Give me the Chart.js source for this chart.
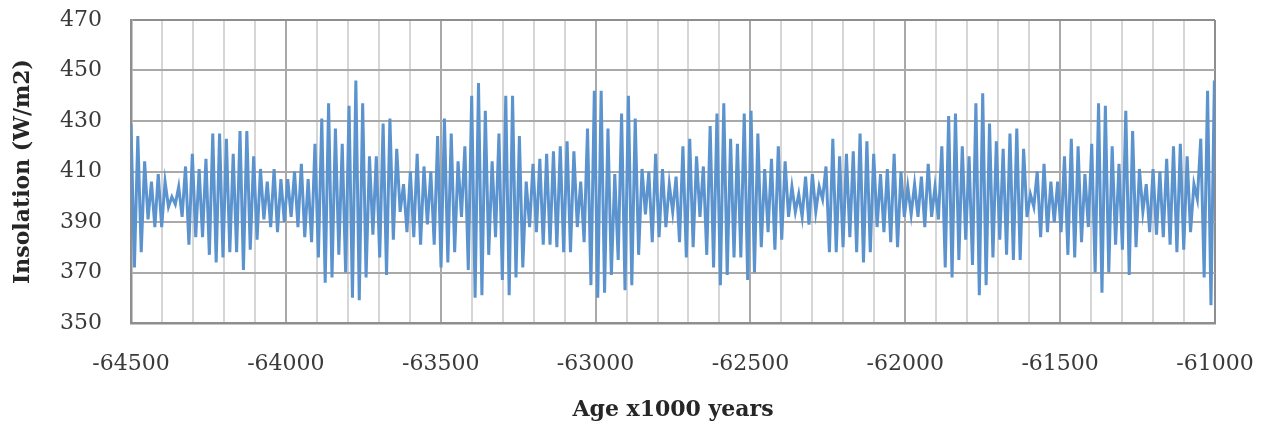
<!DOCTYPE html>
<html>
<head>
<meta charset="utf-8">
<script src="https://cdn.jsdelivr.net/npm/chart.js@4.4.1/dist/chart.umd.min.js"></script>
<style>
  html, body { margin: 0; padding: 0; background: #ffffff; }
  #wrap { width: 1270px; height: 428px; }
</style>
</head>
<body>
<div id="wrap"><canvas id="insolationChart" width="1270" height="428"></canvas></div>
<script>
// age (x1000 years), one sample per half cycle
const ages = [
    -64500, -64489, -64478, -64467, -64456, -64445, -64434, -64423, -64412, -64401,
    -64390, -64379, -64368, -64357, -64346, -64335, -64324, -64313, -64302, -64291,
    -64280, -64269, -64258, -64247, -64236, -64225, -64214, -64203, -64192, -64181,
    -64170, -64159, -64148, -64137, -64126, -64115, -64104, -64093, -64082, -64071,
    -64060, -64049, -64038, -64027, -64016, -64005, -63994, -63983, -63972, -63961,
    -63950, -63939, -63928, -63917, -63906, -63895, -63884, -63873, -63862, -63851,
    -63840, -63829, -63818, -63807, -63796, -63785, -63774, -63763, -63752, -63741,
    -63730, -63719, -63708, -63697, -63686, -63675, -63664, -63653, -63642, -63631,
    -63620, -63609, -63598, -63587, -63576, -63565, -63554, -63543, -63532, -63521,
    -63510, -63499, -63488, -63477, -63466, -63455, -63444, -63433, -63422, -63411,
    -63400, -63389, -63378, -63367, -63356, -63345, -63334, -63323, -63312, -63301,
    -63290, -63279, -63268, -63257, -63246, -63235, -63224, -63213, -63202, -63191,
    -63180, -63169, -63158, -63147, -63136, -63125, -63114, -63103, -63092, -63081,
    -63070, -63059, -63048, -63037, -63026, -63015, -63004, -62993, -62982, -62971,
    -62960, -62949, -62938, -62927, -62916, -62905, -62894, -62883, -62872, -62861,
    -62850, -62839, -62828, -62817, -62806, -62795, -62784, -62773, -62762, -62751,
    -62740, -62729, -62718, -62707, -62696, -62685, -62674, -62663, -62652, -62641,
    -62630, -62619, -62608, -62597, -62586, -62575, -62564, -62553, -62542, -62531,
    -62520, -62509, -62498, -62487, -62476, -62465, -62454, -62443, -62432, -62421,
    -62410, -62399, -62388, -62377, -62366, -62355, -62344, -62333, -62322, -62311,
    -62300, -62289, -62278, -62267, -62256, -62245, -62234, -62223, -62212, -62201,
    -62190, -62179, -62168, -62157, -62146, -62135, -62124, -62113, -62102, -62091,
    -62080, -62069, -62058, -62047, -62036, -62025, -62014, -62003, -61992, -61981,
    -61970, -61959, -61948, -61937, -61926, -61915, -61904, -61893, -61882, -61871,
    -61860, -61849, -61838, -61827, -61816, -61805, -61794, -61783, -61772, -61761,
    -61750, -61739, -61728, -61717, -61706, -61695, -61684, -61673, -61662, -61651,
    -61640, -61629, -61618, -61607, -61596, -61585, -61574, -61563, -61552, -61541,
    -61530, -61519, -61508, -61497, -61486, -61475, -61464, -61453, -61442, -61431,
    -61420, -61409, -61398, -61387, -61376, -61365, -61354, -61343, -61332, -61321,
    -61310, -61299, -61288, -61277, -61266, -61255, -61244, -61233, -61222, -61211,
    -61200, -61189, -61178, -61167, -61156, -61145, -61134, -61123, -61112, -61101,
    -61090, -61079, -61068, -61057, -61046, -61035, -61024, -61013, -61002
];

// insolation (W/m2), peaks and troughs
const insolation = [
    429, 372, 424, 378, 414, 391, 406, 388, 409, 388, 406, 396, 400, 397, 404, 392, 412, 381, 417, 384,
    411, 384, 415, 377, 425, 374, 425, 376,
    423, 378, 417, 378, 426, 371, 426, 379, 416, 383, 411, 391, 406, 388, 411, 386, 407, 390, 407, 392,
    410, 388, 413, 384, 407, 382, 421, 376, 431,
    366, 437, 368, 427, 377, 421, 370, 436, 360, 446, 359, 437, 368, 416, 385, 416, 376, 429, 369, 431,
    383, 419, 394, 405, 386, 410, 384, 417, 381, 412,
    389, 410, 381, 424, 372, 431, 374, 425, 378, 414, 392, 420, 371, 440, 360, 445, 361, 434, 377, 414,
    384, 425, 367, 440, 361, 440, 368, 424, 372,
    406, 388, 413, 386, 415, 381, 417, 381, 418, 380, 420, 378, 422, 378, 418, 388, 406, 382, 427, 365,
    442, 360, 442, 362, 427, 369, 409, 375, 433,
    363, 440, 365, 431, 377, 411, 393, 410, 382, 417, 384, 411, 388, 405, 394, 408, 382, 420, 376, 423,
    380, 416, 392, 412, 377, 428, 372, 433, 365, 437,
    369, 423, 376, 421, 376, 433, 367, 434, 370, 425, 380, 411, 386, 415, 379, 420, 383, 414, 392, 404,
    394, 401, 392, 408, 389, 409, 394, 404, 399,
    412, 378, 423, 378, 416, 380, 417, 384, 418, 378, 425, 374, 422, 378, 417, 388, 409, 386, 411, 382,
    417, 380, 410, 392, 404, 393, 405, 392, 408, 388,
    413, 392, 404, 391, 420, 372, 432, 368, 433, 375, 420, 383, 416, 373, 437, 361, 441, 365, 429, 376,
    422, 383, 419, 377, 425, 375, 427, 375, 419,
    392, 401, 396, 410, 384, 413, 386, 406, 390, 406, 386, 416, 377, 423, 376, 420, 382, 409, 388, 421,
    370, 437, 362, 436, 370, 420, 381, 413, 379,
    434, 369, 426, 380, 411, 394, 405, 386, 411, 385, 410, 384, 415, 381, 420, 378, 421, 379, 416, 386,
    405, 399, 423, 368, 442, 357, 446
];

const xTickLabels = [-64500, -64000, -63500, -63000, -62500, -62000, -61500, -61000];
const yTickLabels = [350, 370, 390, 410, 430, 450, 470];

const borderGrey = '#8e8e8e';
const majorGrey = '#a9a9a9';
const minorGrey = '#d6d6d6';

const ctx = document.getElementById('insolationChart').getContext('2d');
const insolationChart = new Chart(ctx, {
    type: 'line',
    data: {
        datasets: [{
            label: 'Insolation',
            data: ages.map((a, i) => ({ x: a, y: insolation[i] })),
            borderColor: '#5b93cf',
            borderWidth: 3,
            pointRadius: 0,
            tension: 0,
            fill: false
        }]
    },
    options: {
        responsive: false,
        animation: false,
        layout: {
            padding: { left: 0, right: 55, top: 20, bottom: 0 }
        },
        plugins: {
            legend: { display: false },
            tooltip: { enabled: false }
        },
        scales: {
            x: {
                type: 'linear',
                min: -64500,
                max: -61000,
                afterFit: (scale) => {
                    scale.height = 105;
                    scale.paddingLeft = 0;
                    scale.paddingRight = 0;
                },
                afterBuildTicks: (scale) => {
                    // minor grid every 100, labels only on the 500s
                    const t = [];
                    for (let v = -64500; v <= -61000; v += 100) t.push({ value: v });
                    scale.ticks = t;
                },
                ticks: {
                    autoSkip: false,
                    maxRotation: 0,
                    padding: 28,
                    color: '#3a3a3a',
                    font: { family: 'DejaVu Serif', size: 22 },
                    callback: (v) => xTickLabels.includes(v) ? String(v) : ''
                },
                grid: {
                    drawTicks: false,
                    lineWidth: 2,
                    color: (c) => {
                        if (!c.tick) return minorGrey;
                        if (c.tick.value === -61000) return borderGrey;
                        return xTickLabels.includes(c.tick.value) ? majorGrey : minorGrey;
                    }
                },
                border: { color: borderGrey, width: 2.5 },
                title: {
                    display: true,
                    text: 'Age x1000 years',
                    color: '#262626',
                    font: { family: 'DejaVu Serif', size: 22, weight: 'bold' },
                    padding: { top: 0, bottom: 5 }
                }
            },
            y: {
                min: 350,
                max: 470,
                afterFit: (scale) => {
                    scale.width = 131;
                    scale.paddingTop = 0;
                    scale.paddingBottom = 0;
                },
                ticks: {
                    stepSize: 20,
                    padding: 29,
                    color: '#3a3a3a',
                    font: { family: 'DejaVu Serif', size: 22 },
                    callback: (v) => yTickLabels.includes(v) ? String(v) : ''
                },
                grid: {
                    drawTicks: false,
                    lineWidth: 2,
                    color: (c) => (c.tick && c.tick.value === 470) ? borderGrey : majorGrey
                },
                border: { color: borderGrey, width: 2.5 },
                title: {
                    display: true,
                    text: 'Insolation (W/m2)',
                    color: '#262626',
                    font: { family: 'DejaVu Serif', size: 22, weight: 'bold' },
                    padding: { top: 10, bottom: 0 }
                }
            }
        }
    }
});
</script>
</body>
</html>
